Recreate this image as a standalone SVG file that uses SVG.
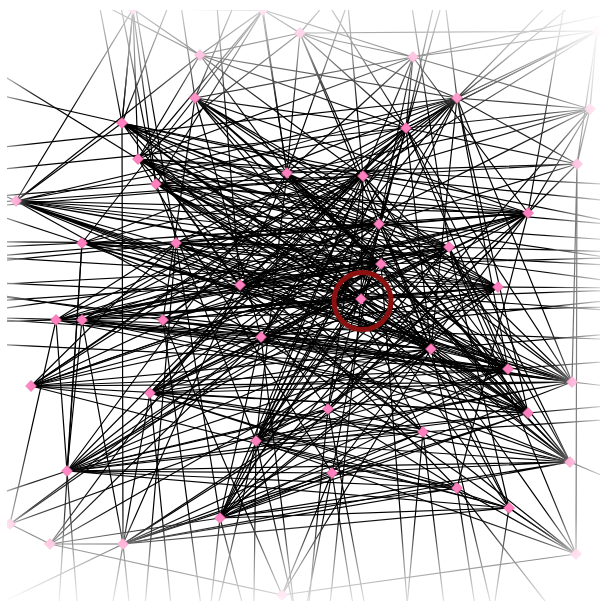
<svg xmlns="http://www.w3.org/2000/svg" xmlns:xlink="http://www.w3.org/1999/xlink" width="600" height="601" viewBox="0 0 600 601">
<defs>
<style>
#edges path{stroke:#000;stroke-width:1.2;fill:none}
.nd{fill:#ff7fbf;stroke:#d8609a;stroke-width:0.6}
</style>
<polygon id="dia" points="0,-5.5 5.5,0 0,5.5 -5.5,0"/>
<clipPath id="clip"><rect x="7" y="10" width="593" height="591"/></clipPath>
<linearGradient id="gt" x1="0" y1="0" x2="0" y2="1"><stop offset="0" stop-color="#fff" stop-opacity="0.85"/><stop offset="0.5" stop-color="#fff" stop-opacity="0.55"/><stop offset="1" stop-color="#fff" stop-opacity="0"/></linearGradient>
<linearGradient id="gb" x1="0" y1="1" x2="0" y2="0"><stop offset="0" stop-color="#fff" stop-opacity="0.88"/><stop offset="0.5" stop-color="#fff" stop-opacity="0.55"/><stop offset="1" stop-color="#fff" stop-opacity="0"/></linearGradient>
<linearGradient id="gl" x1="0" y1="0" x2="1" y2="0"><stop offset="0" stop-color="#fff" stop-opacity="0.75"/><stop offset="1" stop-color="#fff" stop-opacity="0"/></linearGradient>
<linearGradient id="gr" x1="1" y1="0" x2="0" y2="0"><stop offset="0" stop-color="#fff" stop-opacity="0.8"/><stop offset="0.5" stop-color="#fff" stop-opacity="0.45"/><stop offset="1" stop-color="#fff" stop-opacity="0"/></linearGradient>
<radialGradient id="gc" cx="0" cy="601" r="160" gradientUnits="userSpaceOnUse"><stop offset="0" stop-color="#fff" stop-opacity="0.7"/><stop offset="1" stop-color="#fff" stop-opacity="0"/></radialGradient>
<radialGradient id="gc2" cx="600" cy="0" r="200" gradientUnits="userSpaceOnUse"><stop offset="0" stop-color="#fff" stop-opacity="0.6"/><stop offset="1" stop-color="#fff" stop-opacity="0"/></radialGradient>
</defs>
<rect width="600" height="601" fill="#fff"/>
<g clip-path="url(#clip)">
<g id="edges">
<path d="M122 123L363 176M122 123L381 264M122 123L449 247M122 123L361 299M122 123L123 544M122 123L431 349M122 123L240 285M122 123L423 432M122 123L287 173M122 123L133 9M122 123L16 201M122 123L528 213M122 123L379 224M122 123L498 287M122 123L508 369M122 123L328 409M122 123L528 413"/>
<path d="M195 98L406 128M195 98L498 287M195 98L361 299M195 98L163 320M195 98L263 10M195 98L528 213M195 98L508 369M195 98L413 57M195 98L261 337M195 98L82 243M195 98L381 264M195 98L379 224M195 98L431 349M195 98L449 247"/>
<path d="M138 159L528 213M138 159L449 247M138 159L431 349M138 159L332 473M138 159L379 224M138 159L363 176M138 159L572 382M138 159L457 488M138 159L498 287M138 159L381 264M138 159L361 299M138 159L508 369M138 159L528 413"/>
<path d="M156 184L498 287M156 184L379 224M156 184L508 369M156 184L570 462M156 184L381 264M156 184L256 441M156 184L457 98M156 184L528 413M156 184L449 247M156 184L528 213M156 184L431 349M156 184L361 299M156 184L363 176"/>
<path d="M16 201L449 247M16 201L381 264M16 201L361 299M16 201L528 213M16 201L498 287M16 201L379 224M16 201L363 176M16 201L431 349M16 201L261 337M16 201L240 285M16 201L508 369M16 201L572 382M16 201L406 128M16 201L457 98M16 201L528 413"/>
<path d="M82 243L379 224M82 243L449 247M82 243L381 264M82 243L498 287M82 243L508 369M82 243L572 382M82 243L457 98M82 243L363 176M82 243L67 471M82 243L528 213M82 243L361 299M82 243L431 349M82 243L528 413"/>
<path d="M176 243L528 213M176 243L361 299M176 243L528 413M176 243L508 369M176 243L31 386M176 243L56 320M176 243L423 432M176 243L457 98M176 243L220 518M176 243L449 247M176 243L381 264M176 243L498 287M176 243L431 349M176 243L379 224M176 243L363 176"/>
<path d="M240 285L528 213M240 285L498 287M240 285L572 382M240 285L56 320M240 285L50 544M240 285L423 432M240 285L406 128M240 285L590 109M240 285L449 247M240 285L381 264M240 285L508 369M240 285L363 176M240 285L379 224"/>
<path d="M56 320L449 247M56 320L381 264M56 320L361 299M56 320L498 287M56 320L379 224M56 320L363 176M56 320L67 471M56 320L10 524M56 320L528 213M56 320L431 349M56 320L508 369M56 320L572 382M56 320L528 413"/>
<path d="M82 320L449 247M82 320L431 349M82 320L508 369M82 320L528 413M82 320L379 224M82 320L406 128M82 320L67 471M82 320L123 544M82 320L528 213M82 320L381 264M82 320L361 299M82 320L498 287M82 320L572 382M82 320L363 176"/>
<path d="M163 320L528 213M163 320L498 287M163 320L572 382M163 320L570 462M163 320L457 98M163 320L363 176M163 320L282 595M163 320L449 247M163 320L381 264M163 320L361 299M163 320L508 369M163 320L431 349"/>
<path d="M261 337L528 213M261 337L498 287M261 337L572 382M261 337L528 413M261 337L570 462M261 337L220 518M261 337L50 544M261 337L576 554M261 337L457 98M261 337L10 524M261 337L449 247M261 337L381 264M261 337L508 369M261 337L363 176M261 337L406 128"/>
<path d="M287 173L498 287M287 173L508 369M287 173L528 413M287 173L431 349M287 173L423 432M287 173L67 471M287 173L256 441M287 173L123 544M287 173L200 55M287 173L449 247M287 173L381 264M287 173L572 382M287 173L570 462"/>
<path d="M363 176L361 299M363 176L508 369M363 176L328 409M363 176L31 386M363 176L220 518M363 176L150 393M363 176L577 164M363 176L431 349M363 176L572 382M363 176L528 413M363 176L256 441"/>
<path d="M406 128L431 349M406 128L328 409M406 128L150 393M406 128L31 386M406 128L67 471M406 128L256 441M406 128L597 31M406 128L508 369M406 128L572 382M406 128L361 299M406 128L570 462M406 128L220 518"/>
<path d="M457 98L361 299M457 98L431 349M457 98L256 441M457 98L150 393M457 98L300 33M457 98L508 369M457 98L572 382M457 98L31 386M457 98L528 413"/>
<path d="M528 213L31 386M528 213L150 393M528 213L256 441M528 213L590 109M528 213L413 57M528 213L67 471M528 213L220 518M528 213L457 488"/>
<path d="M379 224L572 382M379 224L431 349M379 224L570 462M379 224L509 508M379 224L67 471M379 224L220 518M379 224L150 393M379 224L528 413M379 224L256 441M379 224L31 386"/>
<path d="M449 247L31 386M449 247L67 471M449 247L509 508M449 247L576 554M449 247L220 518M449 247L150 393M449 247L256 441M449 247L528 413M449 247L570 462"/>
<path d="M381 264L150 393M381 264L256 441M381 264L528 413M381 264L31 386M381 264L10 524M381 264L220 518M381 264L570 462M381 264L509 508M381 264L67 471"/>
<path d="M361 299L150 393M361 299L31 386M361 299L509 508M361 299L528 413M361 299L220 518M361 299L570 462M361 299L256 441M361 299L572 382M361 299L508 369M361 299L498 287"/>
<path d="M498 287L150 393M498 287L31 386M498 287L67 471M498 287L50 544M498 287L256 441M498 287L220 518"/>
<path d="M431 349L150 393M431 349L256 441M431 349L67 471M431 349L123 544M431 349L570 462M431 349L576 554M431 349L282 595M431 349L572 382M431 349L31 386M431 349L220 518"/>
<path d="M508 369L150 393M508 369L256 441M508 369L31 386M508 369L123 544M508 369L220 518M508 369L67 471"/>
<path d="M572 382L150 393M572 382L31 386M572 382L256 441M572 382L67 471M572 382L220 518"/>
<path d="M31 386L423 432M31 386L528 413M31 386L509 508"/>
<path d="M150 393L423 432M150 393L528 413M150 393L457 488M150 393L509 508M150 393L570 462"/>
<path d="M328 409L67 471M328 409L123 544M328 409L570 462M328 409L457 488M328 409L10 524M328 409L590 109M328 409L528 213"/>
<path d="M528 413L256 441M528 413L67 471M528 413L220 518M528 413L123 544"/>
<path d="M256 441L423 432M256 441L570 462M256 441L457 488M256 441L576 554M256 441L509 508"/>
<path d="M423 432L67 471M423 432L123 544M423 432L220 518M423 432L576 554"/>
<path d="M570 462L67 471M570 462L332 473M570 462L220 518M570 462L123 544"/>
<path d="M67 471L332 473M67 471L457 488M67 471L509 508"/>
<path d="M332 473L123 544M332 473L457 488M332 473L282 595M332 473L528 213M332 473L379 224"/>
<path d="M457 488L220 518M457 488L123 544M457 488L576 554M220 518L509 508M220 518L50 544M509 508L123 544M509 508L576 554M123 544L50 544"/>
<path d="M200 55L300 33M200 55L133 9M200 55L263 10M300 33L413 57M300 33L597 31M413 57L597 31M413 57L590 109M597 31L590 109M590 109L577 164M577 164L576 554M10 524L50 544M50 544L282 595M282 595L576 554M133 9L16 201M263 10L300 33M200 55L16 201M577 164L528 213M577 164L572 382M597 31L577 164M413 57L406 128M133 9L263 10M263 10L413 57M300 33L406 128M200 55L138 159"/>
<path d="M200 55L406 128M200 55L363 176M200 55L457 98M300 33L363 176M300 33L287 173M300 33L138 159M300 33L379 224M413 57L287 173M413 57L363 176M413 57L379 224M413 57L138 159M597 31L457 98M597 31L406 128M590 109L363 176M590 109L406 128M590 109L457 98M577 164L379 224M577 164L406 128M577 164L457 98M263 10L287 173M263 10L138 159M263 10L156 184M133 9L138 159M133 9L156 184M133 9L122 123M590 109L287 173M577 164L287 173M597 31L363 176"/>
<path d="M449 247L900 260M379 224L900 300M381 264L900 250M363 176L900 230M240 285L900 330M361 299L-300 270M379 224L-300 290M381 264L-300 300M431 349L-300 260M508 369L-300 330M498 287L-300 240M528 213L-300 280M256 441L250 900M220 518L320 900M332 473L400 900M423 432L480 900M176 243L120 900M82 243L40 900M123 544L-200 700M570 462L900 600M200 55L-100 -100M300 33L500 -200M457 98L420 -200M122 123L-200 50M16 201L-200 210M457 488L700 800M67 471L-200 560M572 382L900 420M413 57L900 -50M449 247L-300 350M363 176L-300 230M406 128L-300 200M498 287L900 290M431 349L900 310"/>
<path d="M122 123L60 -200M122 123L250 -200M195 98L150 -200M195 98L320 -200M138 159L-200 -50M156 184L80 -200M287 173L230 -200M287 173L420 -200M363 176L330 -200M363 176L700 -100M406 128L480 -200M406 128L200 -200M457 98L650 -100M528 213L600 -200M379 224L500 -200M449 247L380 -200M16 201L-200 100M82 243L-200 150M176 243L100 -200M240 285L200 -200"/>
<path d="M56 320L-300 330M82 320L-300 310M163 320L-300 250M261 337L-300 300M240 285L-300 320M176 243L-300 240M82 243L-300 260M287 173L-300 220M456 98L-300 180M361 299L900 280M379 224L900 260M261 337L900 270M176 243L900 280M82 320L900 350M56 320L900 300M16 201L900 320M156 184L900 250M138 159L900 200M122 123L900 280M508 369L900 340M528 413L900 380M423 432L900 400"/>
<path d="M328 409L280 900M328 409L420 900M256 441L150 900M256 441L360 900M220 518L180 900M332 473L250 900M423 432L380 900M457 488L520 900M509 508L450 900M150 393L200 900M150 393L60 900M361 299L300 900M431 349L560 900M261 337L330 900M381 264L430 900M163 320L240 900M67 471L100 900M123 544L160 900"/>
</g>
<g id="nodes">
<g id="nA"><use xlink:href="#dia" class="nd" x="122" y="123"/></g>
<g id="nB"><use xlink:href="#dia" class="nd" x="195" y="98"/></g>
<g id="nC"><use xlink:href="#dia" class="nd" x="138" y="159"/></g>
<g id="nD"><use xlink:href="#dia" class="nd" x="156" y="184"/></g>
<g id="nE"><use xlink:href="#dia" class="nd" x="16" y="201"/></g>
<g id="nF"><use xlink:href="#dia" class="nd" x="82" y="243"/></g>
<g id="nG"><use xlink:href="#dia" class="nd" x="176" y="243"/></g>
<g id="nH"><use xlink:href="#dia" class="nd" x="240" y="285"/></g>
<g id="nI"><use xlink:href="#dia" class="nd" x="56" y="320"/></g>
<g id="nJ"><use xlink:href="#dia" class="nd" x="82" y="320"/></g>
<g id="nK"><use xlink:href="#dia" class="nd" x="163" y="320"/></g>
<g id="nL"><use xlink:href="#dia" class="nd" x="261" y="337"/></g>
<g id="nM"><use xlink:href="#dia" class="nd" x="287" y="173"/></g>
<g id="nN"><use xlink:href="#dia" class="nd" x="363" y="176"/></g>
<g id="nO"><use xlink:href="#dia" class="nd" x="406" y="128"/></g>
<g id="nP"><use xlink:href="#dia" class="nd" x="457" y="98"/></g>
<g id="nQ"><use xlink:href="#dia" class="nd" x="528" y="213"/></g>
<g id="nR"><use xlink:href="#dia" class="nd" x="379" y="224"/></g>
<g id="nS"><use xlink:href="#dia" class="nd" x="449" y="247"/></g>
<g id="nT"><use xlink:href="#dia" class="nd" x="381" y="264"/></g>
<g id="nU"><use xlink:href="#dia" class="nd" x="361" y="299"/></g>
<g id="nV"><use xlink:href="#dia" class="nd" x="498" y="287"/></g>
<g id="nW"><use xlink:href="#dia" class="nd" x="431" y="349"/></g>
<g id="nX"><use xlink:href="#dia" class="nd" x="508" y="369"/></g>
<g id="nY"><use xlink:href="#dia" class="nd" x="572" y="382"/></g>
<g id="nZ"><use xlink:href="#dia" class="nd" x="31" y="386"/></g>
<g id="na"><use xlink:href="#dia" class="nd" x="150" y="393"/></g>
<g id="nb"><use xlink:href="#dia" class="nd" x="328" y="409"/></g>
<g id="nc"><use xlink:href="#dia" class="nd" x="528" y="413"/></g>
<g id="nd"><use xlink:href="#dia" class="nd" x="256" y="441"/></g>
<g id="ne"><use xlink:href="#dia" class="nd" x="423" y="432"/></g>
<g id="nf"><use xlink:href="#dia" class="nd" x="570" y="462"/></g>
<g id="ng"><use xlink:href="#dia" class="nd" x="67" y="471"/></g>
<g id="nh"><use xlink:href="#dia" class="nd" x="332" y="473"/></g>
<g id="ni"><use xlink:href="#dia" class="nd" x="457" y="488"/></g>
<g id="nj"><use xlink:href="#dia" class="nd" x="220" y="518"/></g>
<g id="nk"><use xlink:href="#dia" class="nd" x="509" y="508"/></g>
<g id="nl"><use xlink:href="#dia" class="nd" x="123" y="544"/></g>
<g id="nm"><use xlink:href="#dia" class="nd" x="10" y="524"/></g>
<g id="nn"><use xlink:href="#dia" class="nd" x="50" y="544"/></g>
<g id="no"><use xlink:href="#dia" class="nd" x="576" y="554"/></g>
<g id="np"><use xlink:href="#dia" class="nd" x="282" y="595"/></g>
<g id="nq"><use xlink:href="#dia" class="nd" x="200" y="55"/></g>
<g id="nr"><use xlink:href="#dia" class="nd" x="300" y="33"/></g>
<g id="ns"><use xlink:href="#dia" class="nd" x="413" y="57"/></g>
<g id="nt"><use xlink:href="#dia" class="nd" x="597" y="31"/></g>
<g id="nu"><use xlink:href="#dia" class="nd" x="590" y="109"/></g>
<g id="nv"><use xlink:href="#dia" class="nd" x="577" y="164"/></g>
<g id="nw"><use xlink:href="#dia" class="nd" x="263" y="10"/></g>
<g id="nx"><use xlink:href="#dia" class="nd" x="133" y="9"/></g>
</g>
<g id="fog">
<rect x="0" y="0" width="600" height="112" fill="url(#gt)"/>
<rect x="0" y="515" width="600" height="86" fill="url(#gb)"/>
<rect x="0" y="0" width="32" height="601" fill="url(#gl)"/>
<rect x="545" y="0" width="55" height="601" fill="url(#gr)"/>
<rect x="0" y="400" width="200" height="201" fill="url(#gc)"/>
<rect x="400" y="0" width="200" height="200" fill="url(#gc2)"/>
</g>
</g>
<g id="highlight"><circle cx="362.5" cy="301" r="28.5" fill="none" stroke="#8b1010" stroke-width="5"/></g>
</svg>
